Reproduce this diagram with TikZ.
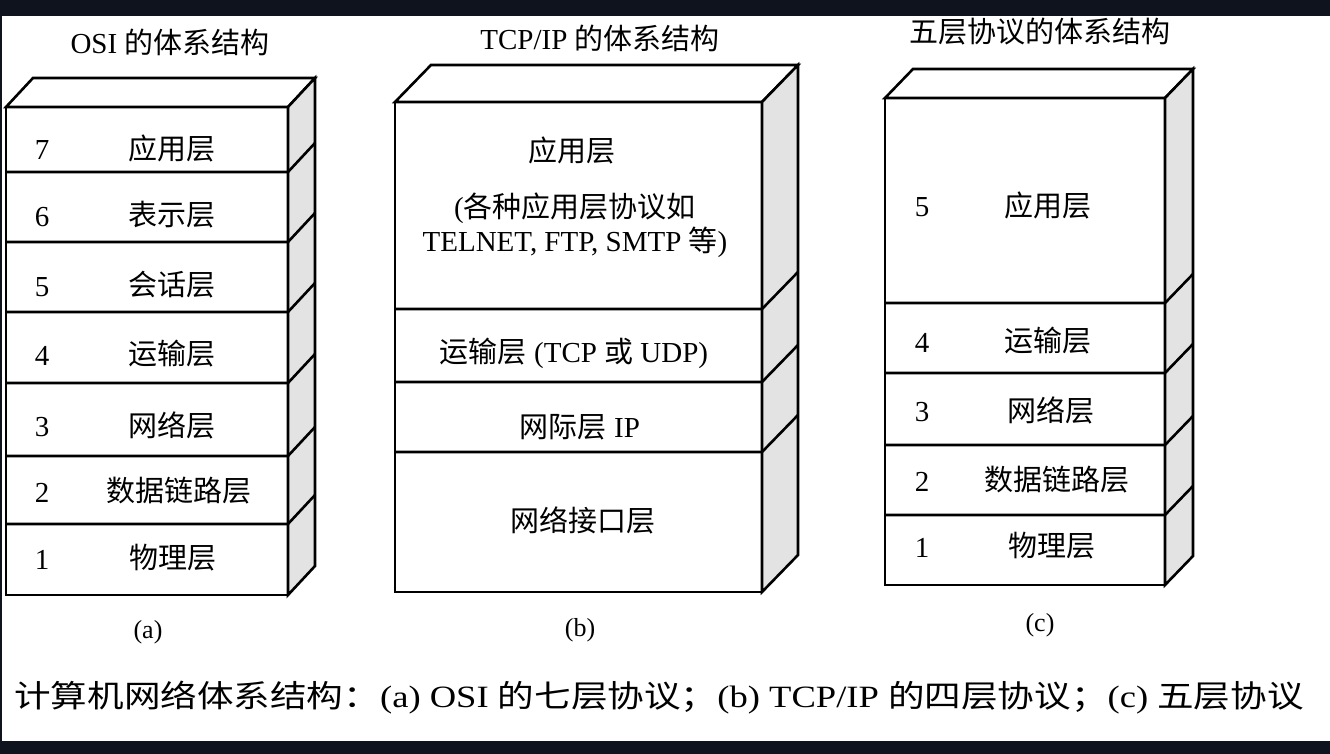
\documentclass[tikz,border=0pt]{standalone}
\usepackage{fontspec}
\usepackage{xcolor}
\setmainfont{Liberation Serif}
\newfontfamily\cjk{Noto Sans CJK SC}
\newcommand{\zh}[1]{{\cjk #1}}
\usetikzlibrary{positioning,calc}
\definecolor{frame}{RGB}{15,19,30}

\begin{document}
\begin{tikzpicture}[x=1pt,y=-1pt,
  box/.style={line width=2.6pt, line join=miter},
  sideface/.style={box, fill=gray!22},
  txt/.style={font=\fontsize{29}{34}\selectfont, inner sep=0pt},
  sublabel/.style={font=\fontsize{26}{30}\selectfont, inner sep=0pt}]
\useasboundingbox (0,0) rectangle (1330,754);

% Page and dark frame
\fill[white] (0,0) rectangle (1330,754);
\fill[frame] (0,0) rectangle (1330,16);
\fill[frame] (0,741) rectangle (1330,754);
\fill[frame] (0,16) rectangle (2,741);

% (a) OSI stack
\filldraw[box, fill=white] (6,107) -- (33,78) -- (315,78) -- (288,107) -- cycle;
\filldraw[sideface] (288,107) -- (315,78) -- (315,566) -- (288,595) -- cycle;
\draw[box] (6,107) rectangle (288,595);
\foreach \y in {172,242,312,383,456,524}
  \draw[box] (6,\y) -- (288,\y) -- (315,\y-29);

% (b) TCP/IP stack
\filldraw[box, fill=white] (395,102) -- (431,65) -- (798,65) -- (762,102) -- cycle;
\filldraw[sideface] (762,102) -- (798,65) -- (798,555) -- (762,592) -- cycle;
\draw[box] (395,102) rectangle (762,592);
\foreach \y in {309,382,452}
  \draw[box] (395,\y) -- (762,\y) -- (798,\y-37);

% (c) five layer stack
\filldraw[box, fill=white] (885,98) -- (913,69) -- (1193,69) -- (1165,98) -- cycle;
\filldraw[sideface] (1165,98) -- (1193,69) -- (1193,556) -- (1165,585) -- cycle;
\draw[box] (885,98) rectangle (1165,585);
\foreach \y in {303,373,445,515}
  \draw[box] (885,\y) -- (1165,\y) -- (1193,\y-29);

% Titles
\node[txt] (titleOSI) at (170,42) {OSI \zh{的体系结构}};
\node[txt] (titleTCP) at (600,38) {TCP/IP \zh{的体系结构}};
\node[txt] (titleFive) at (1040,32) {\zh{五层协议的体系结构}};

% OSI layers
\node[txt] (osiN7) at (42,150) {7};
\node[txt] (osiL7) at (172,148) {\zh{应用层}};
\node[txt] (osiN6) at (42,217) {6};
\node[txt] (osiL6) at (172,215) {\zh{表示层}};
\node[txt] (osiN5) at (42,287) {5};
\node[txt] (osiL5) at (172,285) {\zh{会话层}};
\node[txt] (osiN4) at (42,356) {4};
\node[txt] (osiL4) at (172,354) {\zh{运输层}};
\node[txt] (osiN3) at (42,427) {3};
\node[txt] (osiL3) at (172,425) {\zh{网络层}};
\node[txt] (osiN2) at (42,493) {2};
\node[txt] (osiL2) at (179,491) {\zh{数据链路层}};
\node[txt] (osiN1) at (42,560) {1};
\node[txt] (osiL1) at (173,558) {\zh{物理层}};

% TCP/IP layers
\node[txt] (tcpApp) at (572,150) {\zh{应用层}};
\node[txt, align=center] (tcpAppNote) at (575,225)
  {(\zh{各种应用层协议如}\\TELNET, FTP, SMTP \zh{等})};
\node[txt] (tcpTrans) at (574,353) {\zh{运输层} (TCP \zh{或} UDP)};
\node[txt] (tcpNet) at (580,427) {\zh{网际层} IP};
\node[txt] (tcpLink) at (583,520) {\zh{网络接口层}};

% Five layers
\node[txt] (fiveN5) at (922,207) {5};
\node[txt] (fiveL5) at (1048,205) {\zh{应用层}};
\node[txt] (fiveN4) at (922,343) {4};
\node[txt] (fiveL4) at (1048,341) {\zh{运输层}};
\node[txt] (fiveN3) at (922,412) {3};
\node[txt] (fiveL3) at (1051,410) {\zh{网络层}};
\node[txt] (fiveN2) at (922,482) {2};
\node[txt] (fiveL2) at (1057,480) {\zh{数据链路层}};
\node[txt] (fiveN1) at (922,548) {1};
\node[txt] (fiveL1) at (1052,546) {\zh{物理层}};

% Sub labels and caption
\node[sublabel] (subA) at (148,632) {(a)};
\node[sublabel] (subB) at (580,630) {(b)};
\node[sublabel] (subC) at (1040,625) {(c)};
\node[font=\fontsize{31}{36}\selectfont, inner sep=0pt, xscale=1.18] (caption) at (659,698)
  {\zh{计算机网络体系结构：}(a) OSI \zh{的七层协议；}(b) TCP/IP \zh{的四层协议；}(c) \zh{五层协议}};

\end{tikzpicture}
\end{document}
